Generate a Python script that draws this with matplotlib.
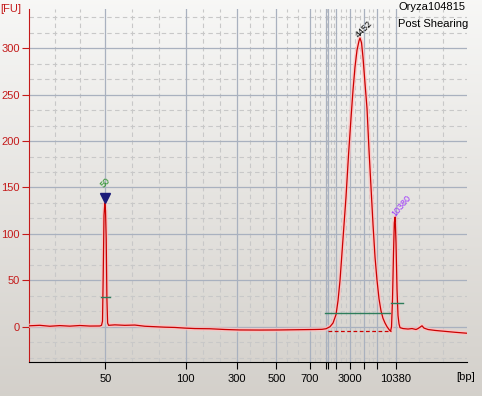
import numpy as np
import matplotlib
matplotlib.use("Agg")
import matplotlib.pyplot as plt

plt.rcParams['font.family'] = ['Liberation Sans', 'DejaVu Sans']

# migration time [s] and fluorescence [FU]
time_s = [20.0, 22.1, 24.1, 26.1, 28.1, 30.1, 32.1, 34.1, 34.44, 34.64, 34.78,
          34.94, 35.1, 35.24, 35.38, 35.52, 35.66, 35.86, 37.1, 39.1, 41.1,
          43.1, 45.1, 47.1, 49.1, 51.1, 53.1, 56.1, 59.1, 62.1, 66.1, 70.1,
          74.1, 77.1, 78.54, 79.34, 80.14, 80.74, 81.34, 81.74, 82.14, 82.74,
          83.34, 83.84, 84.34, 84.74, 85.14, 85.54, 85.94, 86.14, 86.44,
          86.74, 87.14, 87.54, 87.94, 88.34, 88.74, 89.14, 89.54, 89.94,
          90.34, 90.74, 91.14, 91.54, 91.94, 92.24, 92.44, 92.64, 92.84, 93.0,
          93.16, 93.34, 93.54, 93.74, 93.94, 94.14, 94.74, 95.74, 96.54,
          97.34, 97.74, 98.14, 98.54, 98.94, 99.74, 101.14, 103.14, 105.14,
          107.48]
fu = [1.0, 1.5, 0.5, 1.2, 0.6, 1.3, 0.7, 0.8, 1.5, 6, 55,
      120, 133, 125, 95, 30, 4, 1.5, 2.0, 1.5, 1.8,
      0.5, 0.0, -0.5, -0.8, -1.5, -2.0, -2.2, -3.0, -3.5, -3.6, -3.5,
      -3.2, -3.0, -2.8, -2.2, 0, 4, 13, 28, 50, 95,
      140, 185, 225, 255, 280, 298, 308, 311, 306,
      290, 262, 235, 190, 150, 110, 75, 50, 30,
      17, 9, 4, 0, -3, -5, 0, 30, 80, 112,
      118, 90, 40, 12, 3, -1, -2, -2.5, -2,
      -3, -2, -0.5, 1, -1.5, -3, -4, -5, -6,
      -7]

# ladder ticks (time position and size label)
tick_time = [35.2, 51.24, 61.44, 69.4, 76.04, 79.28, 79.8, 81.4, 84.2, 87.0, 89.54, 93.24]
tick_label = ['50', '100', '300', '500', '700', '', '', '', '3000', '', '', '10380']

x_min, x_max = 20.0, 107.48
y_min, y_max = -38, 342.3

fig = plt.figure(figsize=(4.82, 3.96), dpi=100)

# background gradient
bg = fig.add_axes([0, 0, 1, 1], zorder=-10)
grad = np.linspace(0, 1, 256).reshape(-1, 1)
top_c = np.array([0.97, 0.97, 0.965])
bot_c = np.array([0.83, 0.816, 0.795])
img = top_c + (bot_c - top_c) * grad[:, :, None]
bg.imshow(img, aspect='auto', extent=[0, 1, 0, 1])
bg.axis('off')

ax = fig.add_axes([0.0608, 0.0859, 0.9075, 0.8914])
ax.patch.set_visible(False)
ax.set_xlim(x_min, x_max)
ax.set_ylim(y_min, y_max)

# grid: solid at ladder ticks, dashed thirds between them
major_x = tick_time
edges = [x_min] + major_x + [x_max]
minor_x = []
for a, b in zip(edges[:-1], edges[1:]):
    minor_x += [a + (b - a) / 3, a + 2 * (b - a) / 3]
major_y = list(range(0, 301, 50))
minor_y = [v for v in np.arange(-50 / 3 * 2, 342, 50 / 3) if abs(v / 50 - round(v / 50)) > 0.01]

for v in minor_x:
    ax.axvline(v, color='#c8c8c8', lw=0.8, ls=(0, (4, 3)), zorder=1)
for v in minor_y:
    ax.axhline(v, color='#c8c8c8', lw=0.8, ls=(0, (4, 3)), zorder=1)
for v in major_x:
    ax.axvline(v, color='#a9b1bf', lw=0.9, zorder=2)
for v in major_y:
    ax.axhline(v, color='#a9b1bf', lw=0.9, zorder=2)

ax.set_xticks(tick_time)
ax.set_xticklabels(tick_label)
ax.set_yticks(major_y)
ax.tick_params(axis='x', colors='black', length=5, width=0.8, pad=4, labelsize=8)
ax.tick_params(axis='y', colors='#c41a1a', length=5, width=0.8, pad=2, labelsize=8)
for s in ['top', 'right']:
    ax.spines[s].set_visible(False)
ax.spines['left'].set_color('#c41a1a')
ax.spines['bottom'].set_color('black')

# trace with glow
ax.plot(time_s, fu, color='#ffc0c0', lw=3.0, alpha=0.75, zorder=4, solid_joinstyle='round')
ax.plot(time_s, fu, color='#cc0000', lw=0.9, zorder=5)

# region / peak markers
ax.plot([79.14, 92.14], [14.7, 14.7], color='#2e7d5b', lw=1.0, zorder=6)
ax.plot([92.34, 94.68], [26, 26], color='#2e7d5b', lw=1.0, zorder=6)
ax.plot([34.34, 36.14], [31.7, 31.7], color='#2e7d5b', lw=1.0, zorder=6)
ax.plot([79.8, 92.34], [-4.5, -4.5], color='#cc0000', lw=0.9, ls=(0, (3, 2)), zorder=5)
ax.plot([35.14], [139], marker='v', color='#1c1c7a', markersize=7, zorder=7)

ax.text(35.2, 148, '50', color='#1a8c1a', fontsize=6.5, rotation=45,
        ha='center', va='bottom', zorder=7)
ax.text(86.9, 310, '4452', color='black', fontsize=6.5, rotation=45,
        ha='center', va='bottom', zorder=7)
ax.text(94.4, 117, '10380', color='#9b30ff', fontsize=6.5, rotation=50,
        ha='center', va='bottom', zorder=7)

fig.text(0.826, 0.983, 'Oryza104815', fontsize=8, ha='left', va='center')
fig.text(0.826, 0.939, 'Post Shearing', fontsize=8, ha='left', va='center')
fig.text(0.0, 0.977, '[FU]', fontsize=8, color='#c41a1a', ha='left', va='center')
fig.text(0.967, 0.048, '[bp]', fontsize=8, color='black', ha='center', va='center')

fig.savefig('out.png', dpi=100)
